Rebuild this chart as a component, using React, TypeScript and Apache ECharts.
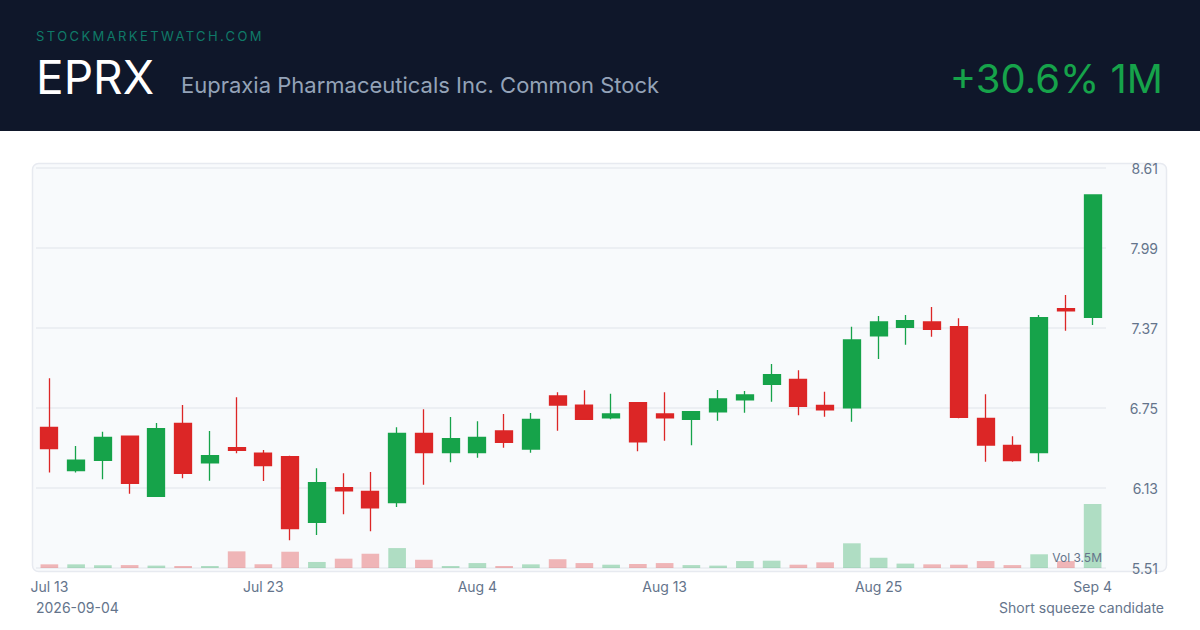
import React, { useEffect, useRef } from "react";
import * as echarts from "echarts";

const dates = [
  "Jul 13", "Jul 14", "Jul 15", "Jul 16", "Jul 17",
  "Jul 20", "Jul 21", "Jul 22", "Jul 23", "Jul 24",
  "Jul 27", "Jul 28", "Jul 29", "Jul 30", "Jul 31",
  "Aug 3", "Aug 4", "Aug 5", "Aug 6", "Aug 7",
  "Aug 10", "Aug 11", "Aug 12", "Aug 13", "Aug 14",
  "Aug 17", "Aug 18", "Aug 19", "Aug 20", "Aug 21",
  "Aug 24", "Aug 25", "Aug 26", "Aug 27", "Aug 28",
  "Aug 31", "Sep 1", "Sep 2", "Sep 3", "Sep 4",
];
const shownLabels = ["Jul 13", "Jul 23", "Aug 4", "Aug 13", "Aug 25", "Sep 4"];

const opens = [
  6.60, 6.264, 6.345, 6.531, 6.066, 6.631, 6.324, 6.442, 6.401, 6.373,
  5.864, 6.132, 6.104, 6.016, 6.554, 6.404, 6.404, 6.572, 6.432, 6.843,
  6.773, 6.673, 6.791, 6.704, 6.662, 6.721, 6.814, 6.934, 6.972, 6.771,
  6.752, 7.310, 7.375, 7.417, 7.380, 6.670, 6.461, 6.404, 7.520, 7.453,
];
const closes = [
  6.435, 6.345, 6.523, 6.166, 6.590, 6.244, 6.380, 6.422, 6.303, 5.815,
  6.171, 6.107, 5.977, 6.554, 6.404, 6.512, 6.523, 6.484, 6.662, 6.773,
  6.662, 6.704, 6.487, 6.673, 6.721, 6.820, 6.851, 7.008, 6.763, 6.735,
  7.277, 7.417, 7.427, 7.360, 6.678, 6.463, 6.342, 7.450, 7.502, 8.401,
];
const lows = [
  6.25, 6.25, 6.197, 6.086, 6.06, 6.205, 6.187, 6.399, 6.184, 5.725,
  5.766, 5.926, 5.794, 5.983, 6.156, 6.329, 6.365, 6.442, 6.404, 6.574,
  6.657, 6.662, 6.414, 6.497, 6.461, 6.652, 6.714, 6.799, 6.693, 6.683,
  6.644, 7.130, 7.241, 7.303, 6.670, 6.334, 6.334, 6.334, 7.349, 7.393,
];
const highs = [
  6.98, 6.455, 6.566, 6.535, 6.634, 6.773, 6.572, 6.833, 6.425, 6.38,
  6.283, 6.244, 6.254, 6.60, 6.740, 6.680, 6.647, 6.704, 6.711, 6.872,
  6.887, 6.861, 6.795, 6.872, 6.725, 6.890, 6.882, 7.091, 7.042, 6.876,
  7.380, 7.463, 7.471, 7.533, 7.445, 6.856, 6.531, 7.471, 7.626, 8.405,
];
// volume in millions of shares
const volumes = [
  0.20, 0.20, 0.15, 0.16, 0.13, 0.11, 0.11, 0.91, 0.20, 0.89,
  0.33, 0.51, 0.78, 1.09, 0.45, 0.11, 0.27, 0.11, 0.20, 0.48,
  0.27, 0.18, 0.22, 0.27, 0.16, 0.13, 0.38, 0.40, 0.18, 0.31,
  1.35, 0.56, 0.24, 0.20, 0.18, 0.38, 0.16, 0.75, 0.38, 3.50,
];
const priceTicks = { min: 5.51, max: 8.61, step: 0.62 };

const ticker = "EPRX";
const company = "Eupraxia Pharmaceuticals Inc. Common Stock";
const brand = "STOCKMARKETWATCH.COM";
const changeText = "+30.6% 1M";
const dateText = "2026-09-04";
const noteText = "Short squeeze candidate";

const UP = "#16a34a";
const DOWN = "#dc2626";
const MUTED = "#64748b";
const FONT = "Inter, 'Noto Sans', sans-serif";

export default function App() {
  const ref = useRef<HTMLDivElement>(null);

  useEffect(() => {
    if (!ref.current) return;
    const chart = echarts.init(ref.current, undefined, { renderer: "svg" });
    const candleData = dates.map((_, i) => [opens[i], closes[i], lows[i], highs[i]]);
    const volData = volumes.map((v, i) => ({
      value: v,
      itemStyle: {
        color: closes[i] >= opens[i] ? "rgba(22,163,74,0.32)" : "rgba(220,38,38,0.32)",
      },
    }));
    const maxVol = Math.max(...volumes);

    chart.setOption({
      animation: false,
      backgroundColor: "#ffffff",
      textStyle: { fontFamily: FONT },
      graphic: [
        { type: "rect", z: -10, shape: { x: 0, y: 0, width: 1200, height: 131 }, style: { fill: "#0f172a" } },
        {
          type: "text", z: 10,
          style: { x: 36, y: 36, text: brand, font: `400 13px ${FONT}`, fill: "#0f7a68", textVerticalAlign: "middle" },
        },
        {
          type: "text", z: 10,
          style: { x: 36, y: 77, text: ticker, font: `400 46px ${FONT}`, fill: "#ffffff", textVerticalAlign: "middle" },
        },
        {
          type: "text", z: 10,
          style: { x: 181, y: 85, text: company, font: `400 22px ${FONT}`, fill: "#94a3b8", textVerticalAlign: "middle" },
        },
        {
          type: "text", z: 10,
          style: { x: 1163, y: 78, text: changeText, font: `400 40px ${FONT}`, fill: UP, textAlign: "right", textVerticalAlign: "middle" },
        },
        {
          type: "rect", z: -10,
          shape: { x: 32.5, y: 163.5, width: 1134, height: 408, r: 6 },
          style: { fill: "#f8fafc", stroke: "#e7eaf0", lineWidth: 1.5 },
        },
        {
          type: "text", z: 10,
          style: { x: 1102, y: 557, text: `Vol ${maxVol.toFixed(1)}M`, font: `400 12px ${FONT}`, fill: MUTED, textAlign: "right", textVerticalAlign: "middle" },
        },
        {
          type: "text", z: 10,
          style: { x: 36, y: 607, text: dateText, font: `400 14px ${FONT}`, fill: MUTED, textVerticalAlign: "middle" },
        },
        {
          type: "text", z: 10,
          style: { x: 1164, y: 607, text: noteText, font: `400 14px ${FONT}`, fill: MUTED, textAlign: "right", textVerticalAlign: "middle" },
        },
      ],
      grid: [
        { left: 36, right: 94, top: 168, height: 400 },
        { left: 36, right: 94, top: 488, height: 80 },
      ],
      xAxis: [
        {
          type: "category", gridIndex: 0, data: dates, boundaryGap: true,
          axisLine: { show: false }, axisTick: { show: false },
          axisLabel: {
            color: MUTED, fontSize: 14, fontFamily: FONT, margin: 11,
            interval: (i: number, v: string) => shownLabels.includes(v),
          },
          splitLine: { show: false },
        },
        {
          type: "category", gridIndex: 1, data: dates, boundaryGap: true,
          axisLine: { show: false }, axisTick: { show: false }, axisLabel: { show: false },
        },
      ],
      yAxis: [
        {
          type: "value", gridIndex: 0, position: "right", scale: true,
          min: priceTicks.min, max: priceTicks.max, interval: priceTicks.step,
          axisLine: { show: false }, axisTick: { show: false },
          axisLabel: {
            color: MUTED, fontSize: 14, fontFamily: FONT, align: "right", margin: 52,
            formatter: (v: number) => v.toFixed(2),
          },
          splitLine: { lineStyle: { color: "#e8ebf0", width: 1.5 } },
        },
        {
          type: "value", gridIndex: 1, min: 0, max: (e: any) => e.max / 0.8,
          axisLine: { show: false }, axisTick: { show: false }, axisLabel: { show: false },
          splitLine: { show: false },
        },
      ],
      series: [
        {
          type: "bar", xAxisIndex: 1, yAxisIndex: 1, data: volData, barWidth: "66%", z: 1,
        },
        {
          type: "candlestick", xAxisIndex: 0, yAxisIndex: 0, data: candleData, barWidth: "66%", z: 3,
          itemStyle: { color: UP, color0: DOWN, borderColor: UP, borderColor0: DOWN, borderWidth: 1.3 },
        },
      ],
    });

    // widen the brand line's tracking, as in the reference
    const texts = ref.current.querySelectorAll("text");
    texts.forEach((t) => {
      if (t.textContent === brand) t.setAttribute("letter-spacing", "2.4");
    });

    return () => chart.dispose();
  }, []);

  return <div ref={ref} style={{ position: "absolute", left: 0, top: 0, width: 1200, height: 630 }} />;
}
